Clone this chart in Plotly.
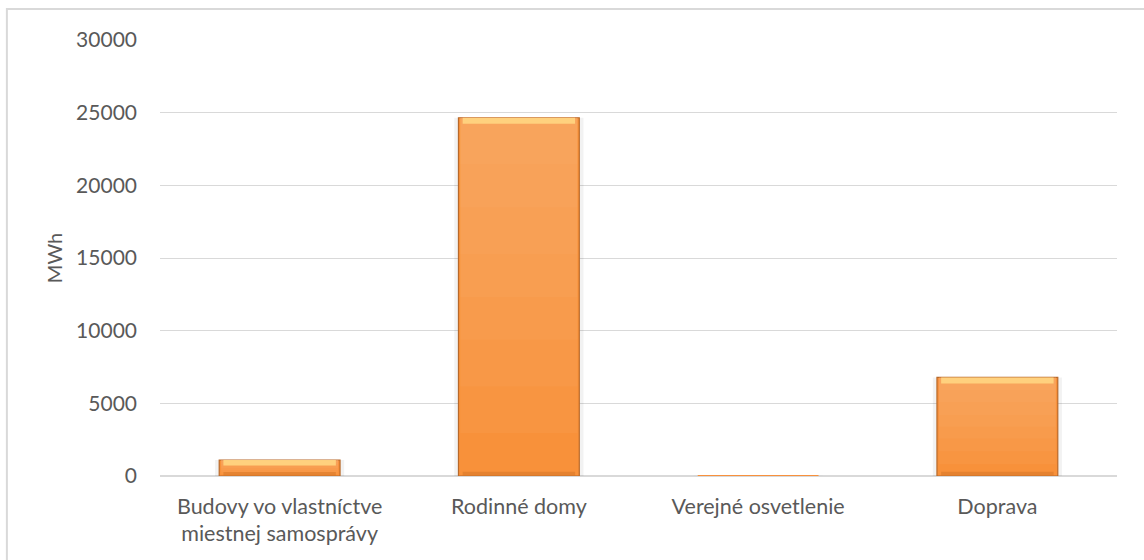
import plotly.graph_objects as go

# Energy consumption by sector (MWh)
categories = [
    "Budovy vo vlastníctve<br>miestnej samosprávy",
    "Rodinné domy",
    "Verejné osvetlenie",
    "Doprava",
]
values_mwh = [1100, 24650, 20, 6780]

y_ticks = [0, 5000, 10000, 15000, 20000, 25000, 30000]

FONT = "Lato, 'Open Sans', sans-serif"
TEXT_GREY = "#595959"
GRID_GREY = "#D9D9D9"

# thickness of the bevelled rim, in data units
rim = 420

fig = go.Figure()

# soft drop shadow behind each bar
fig.add_trace(go.Bar(
    x=categories, y=values_mwh, width=0.54,
    marker=dict(color="rgba(0,0,0,0.05)", line=dict(width=0)),
    hoverinfo="skip", showlegend=False,
))

# main bar body (darker orange at the bottom)
fig.add_trace(go.Bar(
    x=categories, y=values_mwh, width=0.505,
    marker=dict(
        color="#F8913A",
        line=dict(color="#B8692A", width=[1.2 if v > 200 else 0 for v in values_mwh]),
    ),
    showlegend=False,
))

# stacked translucent overlays lighten the body towards the top
for f in [0.12, 0.25, 0.38, 0.5, 0.62, 0.75, 0.87]:
    fig.add_trace(go.Bar(
        x=categories,
        y=[v * (1 - f) for v in values_mwh],
        base=[v * f for v in values_mwh],
        width=0.49,
        marker=dict(color="rgba(255,190,130,0.10)", line=dict(width=0)),
        hoverinfo="skip", showlegend=False,
    ))

# bevel highlight along the top edge
fig.add_trace(go.Bar(
    x=categories,
    y=[min(rim, v * 0.35) for v in values_mwh],
    base=[v - min(rim, v * 0.35) for v in values_mwh],
    width=0.47,
    marker=dict(color="rgba(255,214,130,0.9)", line=dict(width=0)),
    hoverinfo="skip", showlegend=False,
))

# darker rim along the bottom edge
fig.add_trace(go.Bar(
    x=categories,
    y=[min(rim * 0.7, v * 0.25) for v in values_mwh],
    base=[0 for v in values_mwh],
    width=0.47,
    marker=dict(color="rgba(214,118,40,0.55)", line=dict(width=0)),
    hoverinfo="skip", showlegend=False,
))

fig.update_layout(
    width=1144, height=560,
    margin=dict(l=160, r=27, t=40, b=84),
    paper_bgcolor="white", plot_bgcolor="white",
    barmode="overlay",
    font=dict(family=FONT, size=21, color=TEXT_GREY),
    xaxis=dict(
        showgrid=False, showline=False, zeroline=False,
        ticks="", tickfont=dict(size=21.5, color=TEXT_GREY),
        ticklabelstandoff=15,
    ),
    yaxis=dict(
        range=[0, 30000], tickvals=y_ticks,
        ticktext=[str(t) for t in y_ticks],
        showgrid=True, gridcolor=GRID_GREY, gridwidth=1.3,
        zeroline=True, zerolinecolor=GRID_GREY, zerolinewidth=2,
        showline=False, ticks="",
        tickfont=dict(size=21, color=TEXT_GREY),
        ticklabelstandoff=22,
        title=dict(text="MWh", font=dict(size=20, color=TEXT_GREY), standoff=8),
    ),
    shapes=[
        dict(
            type="rect", xref="paper", yref="paper",
            x0=-0.16, x1=1.3, y0=-0.4, y1=1.071,
            line=dict(color=GRID_GREY, width=2), fillcolor="rgba(0,0,0,0)",
            layer="below",
        )
    ],
)

fig.write_html("out.html")
